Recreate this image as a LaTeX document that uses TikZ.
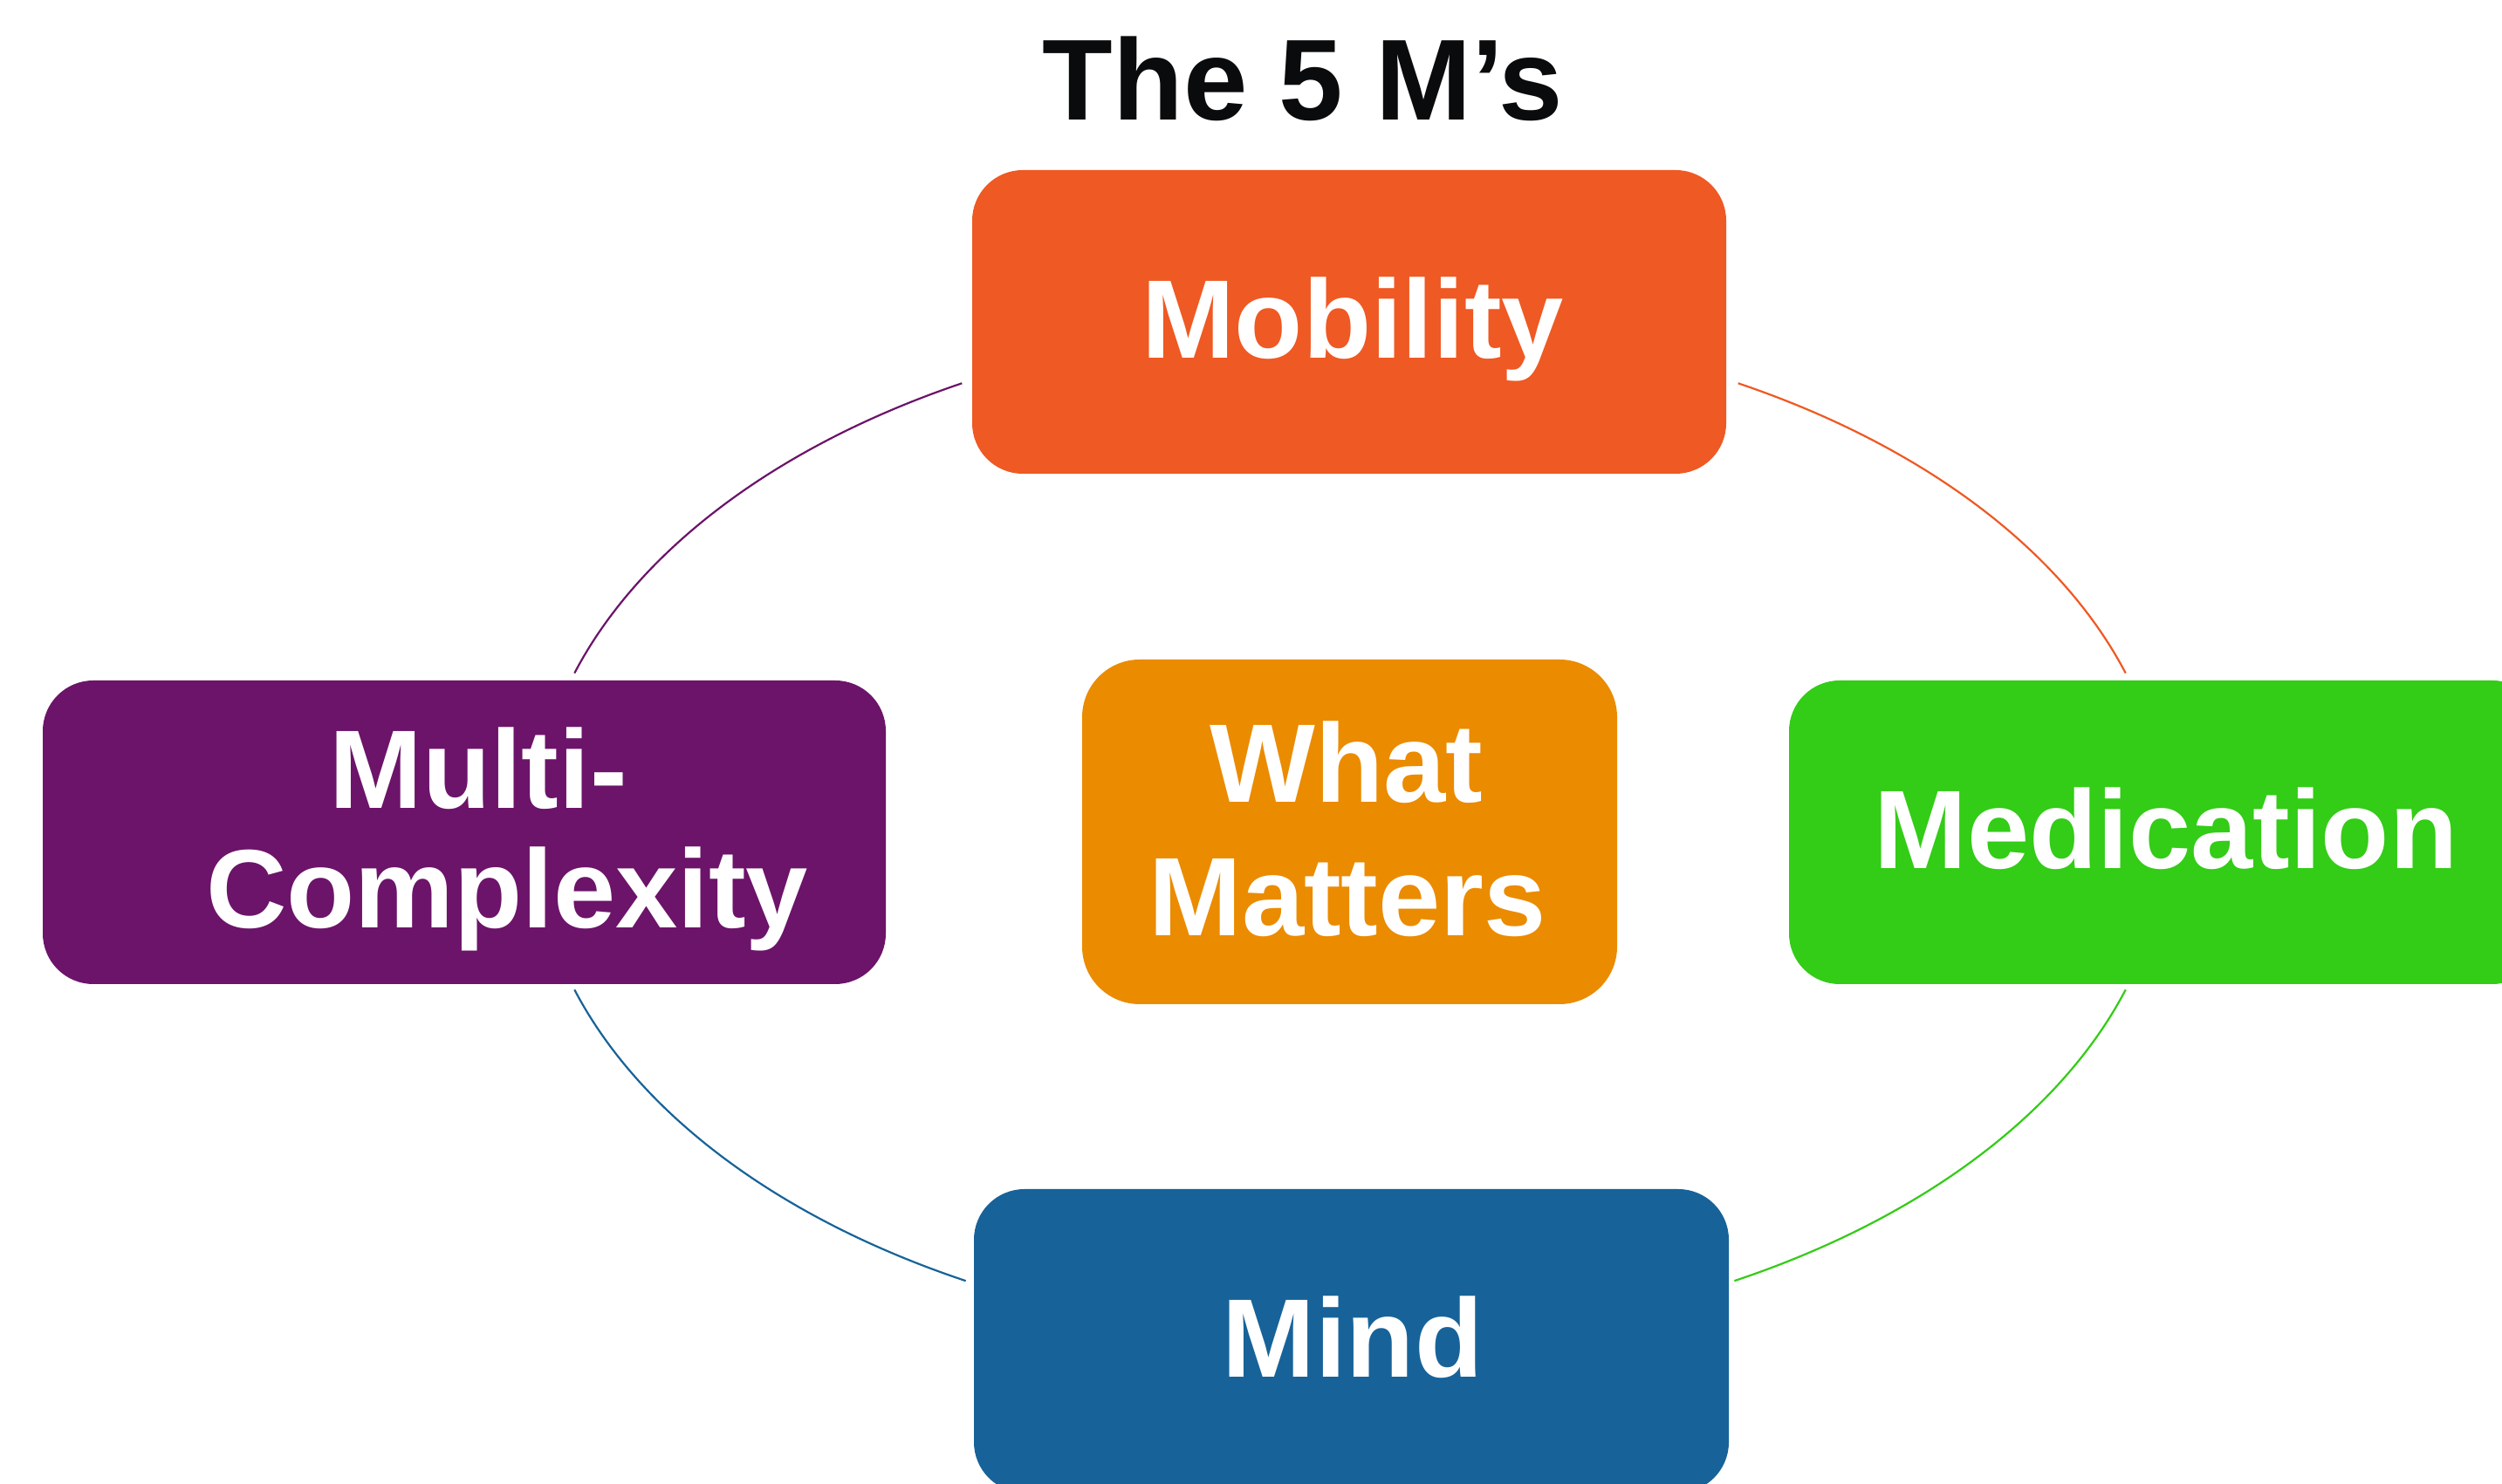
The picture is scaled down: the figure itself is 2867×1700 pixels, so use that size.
\documentclass[tikz,border=0pt]{standalone}
\usepackage{fontspec}
\setmainfont{Liberation Sans}
\usetikzlibrary{calc}
\definecolor{cMob}{HTML}{EF5923}
\definecolor{cMulti}{HTML}{6C1469}
\definecolor{cWhat}{HTML}{EB8B00}
\definecolor{cMed}{HTML}{33CC17}
\definecolor{cMind}{HTML}{176399}
\definecolor{cTitle}{HTML}{0A0B0D}
\tikzset{
  mbox/.style={rectangle, rounded corners=58pt, inner sep=0pt, minimum height=348pt, minimum width=864pt},
  lbl/.style={anchor=base, text=white, inner sep=0pt, font=\fontsize{128}{150}\selectfont\bfseries},
  conn/.style={line width=2.2pt}
}
\begin{document}
\begin{tikzpicture}[x=1pt,y=1pt]
\useasboundingbox (0,0) rectangle (2867,1700);
\clip (0,0) rectangle (2867,1700);
\fill[white] (0,0) rectangle (2867,1700);

% title
\node (title) [anchor=base, inner sep=0pt, text=cTitle, font=\fontsize{132}{150}\selectfont\bfseries] at (1493,1562) {The 5 M’s};

% boxes
\node (mob)   [mbox, fill=cMob]  at (1546,1331) {};
\node (multi) [mbox, fill=cMulti, minimum width=966pt] at (532,746) {};
\node (what)  [mbox, fill=cWhat, minimum width=613pt, minimum height=395pt, rounded corners=66pt] at (1546.5,746.5) {};
\node (med)   [mbox, fill=cMed]  at (2482,746) {};
\node (mind)  [mbox, fill=cMind, minimum width=865pt] at (1548.5,163) {};

% labels
\node (mobtxt)   [lbl] at (1550,1289) {Mobility};
\node (medtxt)   [lbl] at (2482,704) {Medication};
\node (mindtxt)  [lbl] at (1550,121) {Mind};
\node (multitxta) [lbl] at (548,773) {Multi-};
\node (multitxtb) [lbl] at (581,636) {Complexity};
\node (whattxta) [lbl] at (1543,780) {What};
\node (whattxtb) [lbl] at (1544,627) {Matters};

% cycle arcs
\coordinate (C) at (1547,747);
\coordinate (pA) at ($(C)+(118.4:935pt and 584pt)$);
\coordinate (oA) at ($(C)+(61.6:935pt and 584pt)$);
\coordinate (bA) at ($(C)+(198.1:935pt and 584pt)$);
\coordinate (gA) at ($(C)+(298.1:935pt and 584pt)$);
\draw[conn, cMulti] (pA) arc[start angle=118.4, end angle=161.9, x radius=935pt, y radius=584pt];
\draw[conn, cMob]   (oA) arc[start angle=61.6, end angle=18.1, x radius=935pt, y radius=584pt];
\draw[conn, cMind]  (bA) arc[start angle=198.1, end angle=241.9, x radius=935pt, y radius=584pt];
\draw[conn, cMed]   (gA) arc[start angle=298.1, end angle=341.9, x radius=935pt, y radius=584pt];
\end{tikzpicture}
\end{document}
